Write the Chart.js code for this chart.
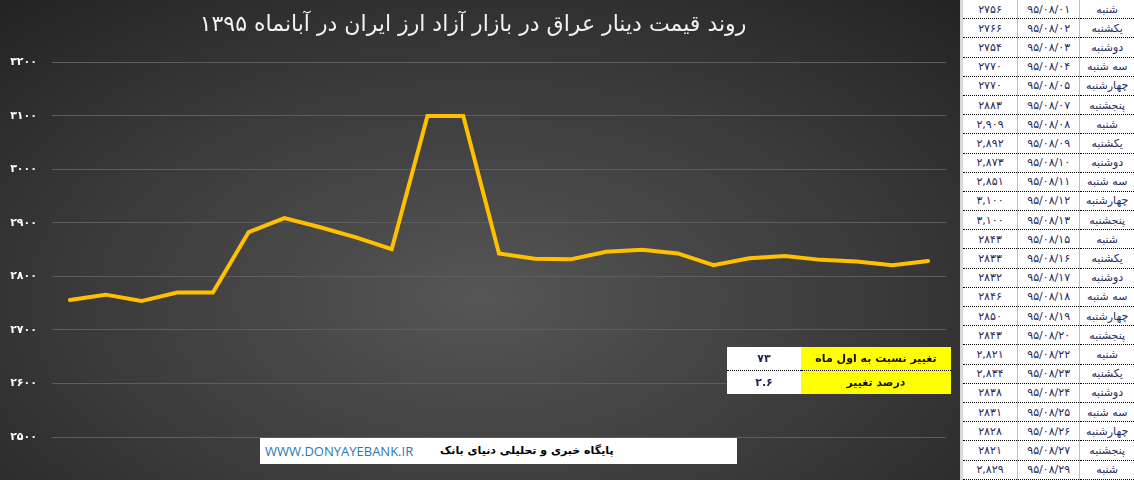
<!DOCTYPE html>
<html lang="fa">
<head>
<meta charset="utf-8">
<script src="https://cdn.jsdelivr.net/npm/chart.js@4"></script>
<style>
    html, body { margin: 0; padding: 0; background: #ffffff; }
    #wrap { position: relative; width: 1134px; height: 480px; overflow: hidden; }
    #chartBox {
        position: absolute; left: 0; top: 0; width: 960px; height: 480px;
        background: radial-gradient(ellipse 75% 85% at 50% 62%, #565656 0%, #3a3a3a 55%, #222222 100%);
    }
    #chart { position: absolute; left: 0; top: 0; }
    #summary {
        position: absolute; left: 727px; top: 347px; width: 224px;
        border-collapse: collapse; font-family: "DejaVu Sans", sans-serif; font-size: 11px;
        direction: rtl;
    }
    #summary td { height: 23px; padding: 0; text-align: center; color: #111; }
    #summary td.lbl { background: #ffff00; width: 150px; font-weight: bold; }
    #summary td.val { background: #ffffff; width: 74px; font-weight: bold; color: #1a2550; }
    #summary tr:first-child td { border-bottom: 1px dotted #000; }
    #brand {
        position: absolute; left: 260px; top: 438px; width: 477px; height: 26px;
        background: #ffffff; font-size: 13px; line-height: 26px;
    }
    #brand .url { position: absolute; left: 5px; font-family: "Open Sans", sans-serif; color: #2e75b6; }
    #brand .fa { position: absolute; left: 180px; font-family: "DejaVu Sans", sans-serif; font-weight: bold; color: #000; direction: rtl; font-size: 11px; }
    #side {
        position: absolute; left: 960px; top: 0; width: 174px; height: 480px;
        background: #ffffff; border-left: 3px solid #d9d9d9; box-sizing: border-box;
    }
    #prices {
        border-collapse: collapse; width: 171px; font-family: "DejaVu Sans", sans-serif;
        font-size: 11px; color: #1f2a5c;
    }
    #prices td {
        height: 18.2px; padding: 0; text-align: center; white-space: nowrap;
        border-bottom: 1px dotted #000; border-right: 1px solid #bfbfbf;
    }
    #prices td.c1 { width: 55px; }
    #prices td.c2 { width: 62px; }
    #prices td.c3 { width: 54px; border-right: none; }
</style>
</head>
<body>
<div id="wrap">
    <div id="chartBox">
        <canvas id="chart" width="960" height="480"></canvas>
        <table id="summary">
            <tr><td class="lbl" id="chgLbl"></td><td class="val" id="chgVal"></td></tr>
            <tr><td class="lbl" id="pctLbl"></td><td class="val" id="pctVal"></td></tr>
        </table>
        <div id="brand">
            <span class="url">WWW.DONYAYEBANK.IR</span>
            <span class="fa">پایگاه خبری و تحلیلی دنیای بانک</span>
        </div>
    </div>
    <div id="side"><table id="prices"></table></div>
</div>
<script>
// Iraqi dinar price, Aban 1395
const days = ['شنبه', 'یکشنبه', 'دوشنبه', 'سه شنبه', 'چهارشنبه', 'پنجشنبه',
    'شنبه', 'یکشنبه', 'دوشنبه', 'سه شنبه', 'چهارشنبه', 'پنجشنبه',
    'شنبه', 'یکشنبه', 'دوشنبه', 'سه شنبه', 'چهارشنبه', 'پنجشنبه',
    'شنبه', 'یکشنبه', 'دوشنبه', 'سه شنبه', 'چهارشنبه', 'پنجشنبه', 'شنبه'];

const dates = ['۹۵/۰۸/۰۱', '۹۵/۰۸/۰۲', '۹۵/۰۸/۰۳', '۹۵/۰۸/۰۴', '۹۵/۰۸/۰۵', '۹۵/۰۸/۰۷',
    '۹۵/۰۸/۰۸', '۹۵/۰۸/۰۹', '۹۵/۰۸/۱۰', '۹۵/۰۸/۱۱', '۹۵/۰۸/۱۲', '۹۵/۰۸/۱۳',
    '۹۵/۰۸/۱۵', '۹۵/۰۸/۱۶', '۹۵/۰۸/۱۷', '۹۵/۰۸/۱۸', '۹۵/۰۸/۱۹', '۹۵/۰۸/۲۰',
    '۹۵/۰۸/۲۲', '۹۵/۰۸/۲۳', '۹۵/۰۸/۲۴', '۹۵/۰۸/۲۵', '۹۵/۰۸/۲۶', '۹۵/۰۸/۲۷', '۹۵/۰۸/۲۹'];

const prices = [2756, 2766, 2754, 2770, 2770, 2883,
    2909, 2892, 2873, 2851, 3100, 3100,
    2843, 2833, 2832, 2846, 2850, 2843,
    2821, 2834, 2838, 2831, 2828, 2821, 2829];

// how the prices are written in the side table
const priceLabels = ['۲۷۵۶', '۲۷۶۶', '۲۷۵۴', '۲۷۷۰', '۲۷۷۰', '۲۸۸۳',
    '۲,۹۰۹', '۲,۸۹۲', '۲,۸۷۳', '۲,۸۵۱', '۳,۱۰۰', '۳,۱۰۰',
    '۲۸۴۳', '۲۸۳۳', '۲۸۳۲', '۲۸۴۶', '۲۸۵۰', '۲۸۴۳',
    '۲,۸۲۱', '۲,۸۳۴', '۲۸۳۸', '۲۸۳۱', '۲۸۲۸', '۲۸۲۱', '۲,۸۲۹'];

const summaryLabels = ['تغییر نسبت به اول ماه', 'درصد تغییر'];
const summaryValues = ['۷۳', '۲.۶'];

const yMin = 2500;
const yMax = 3200;
const yStep = 100;

function toFa(n) {
    return String(n).replace(/[0-9]/g, d => '۰۱۲۳۴۵۶۷۸۹'[d]);
}

// side table
const tbl = document.getElementById('prices');
days.forEach(function(day, i) {
    const tr = document.createElement('tr');
    tr.innerHTML = '<td class="c1">' + priceLabels[i] + '</td><td class="c2">' + dates[i] + '</td><td class="c3">' + day + '</td>';
    tbl.appendChild(tr);
});

document.getElementById('chgLbl').textContent = summaryLabels[0];
document.getElementById('pctLbl').textContent = summaryLabels[1];
document.getElementById('chgVal').textContent = summaryValues[0];
document.getElementById('pctVal').textContent = summaryValues[1];

const ctx = document.getElementById('chart').getContext('2d');
new Chart(ctx, {
    type: 'line',
    data: {
        labels: dates,
        datasets: [{
            data: prices,
            borderColor: '#ffc000',
            borderWidth: 4,
            borderCapStyle: 'round',
            borderJoinStyle: 'miter',
            pointRadius: 0,
            tension: 0,
            fill: false
        }]
    },
    options: {
        responsive: false,
        animation: false,
        layout: { padding: { top: 0, right: 14, bottom: 35, left: 0 } },
        plugins: {
            legend: { display: false },
            tooltip: { enabled: false },
            title: {
                display: true,
                text: 'روند قیمت دینار عراق در بازار آزاد ارز ایران در آبانماه ۱۳۹۵',
                color: '#f2f2f2',
                font: { family: 'DejaVu Sans', size: 22, weight: 'normal' },
                padding: { top: 12, bottom: 24 }
            }
        },
        scales: {
            x: {
                offset: true,
                grid: { display: false },
                border: { display: false },
                ticks: { display: false }
            },
            y: {
                min: yMin,
                max: yMax,
                afterFit: function(scale) { scale.width = 52; },
                grid: { color: '#5e5e5e', lineWidth: 1, drawTicks: false },
                border: { display: false },
                ticks: {
                    stepSize: yStep,
                    padding: 15,
                    color: '#ffffff',
                    font: { family: 'DejaVu Sans', size: 11, weight: 'bold' },
                    callback: function(v) { return toFa(v); }
                }
            }
        }
    }
});
</script>
</body>
</html>
